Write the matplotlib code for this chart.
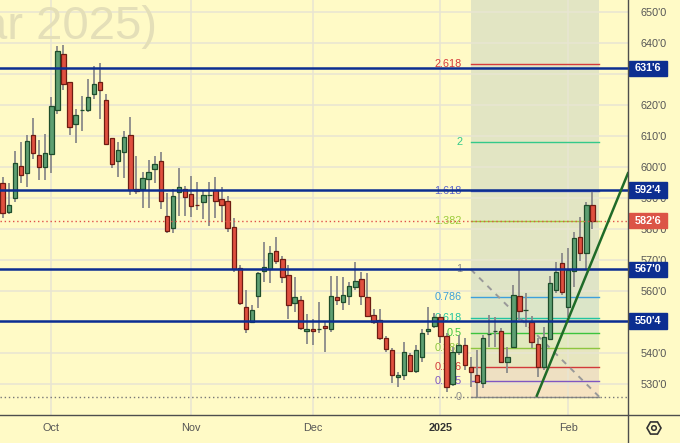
import numpy as np
import matplotlib
matplotlib.use("Agg")
import matplotlib.pyplot as plt
import matplotlib.transforms as mtransforms
from matplotlib.patches import Rectangle, RegularPolygon, Circle
from matplotlib.lines import Line2D

plt.rcParams['font.family'] = ['Liberation Sans', 'DejaVu Sans']

# daily bars, Wheat Mar 2025 (index 0 = Oct 1)
opens = [595.0, 585.6, 589.9, 600.3, 598.0, 610.3, 603.8, 600.1, 604.1, 618.3,
         636.4, 627.3, 613.7, 618.3, 618.3, 623.6, 627.4, 621.6, 609.2, 601.8,
         604.9, 610.3, 592.8, 593.0, 596.0, 599.3, 601.8, 584.1, 580.2, 591.8,
         592.8, 591.3, 587.7, 588.6, 590.9, 592.6, 589.7, 589.0, 580.6, 567.4,
         554.8, 550.0, 558.4, 566.4, 567.2, 572.9, 570.4, 565.2, 556.1, 557.2,
         547.1, 547.8, 547.7, 548.8, 547.7, 558.0, 556.6, 558.4, 561.4, 563.9,
         558.0, 552.3, 550.7, 544.8, 541.1, 532.3, 532.9, 539.3, 534.4, 538.9,
         547.1, 548.7, 551.6, 545.6, 530.0, 540.3, 542.7, 535.5, 533.0, 530.3,
         546.1, 547.2, 547.2, 537.3, 541.9, 558.4, 553.9, 550.2, 543.0, 535.7,
         544.5, 560.5, 569.0, 554.8, 566.5, 577.4, 572.2, 587.8]
highs = [596.9, 594.7, 605.1, 608.1, 610.3, 615.9, 608.7, 610.5, 622.5, 639.1,
         639.3, 627.3, 618.7, 622.9, 628.3, 632.5, 633.6, 623.4, 609.5, 608.1,
         611.6, 616.1, 603.6, 598.3, 602.2, 603.5, 604.7, 591.7, 592.9, 599.7,
         593.9, 597.1, 595.2, 592.6, 595.2, 596.9, 593.5, 590.7, 583.5, 568.4,
         560.4, 555.5, 566.2, 575.7, 574.5, 577.4, 571.3, 568.3, 564.7, 558.4,
         552.6, 550.9, 556.6, 550.0, 564.9, 564.9, 564.7, 563.0, 569.4, 566.2,
         565.8, 554.2, 554.2, 545.5, 541.8, 534.0, 543.7, 540.0, 542.5, 547.8,
         555.0, 552.9, 552.5, 546.5, 542.1, 545.9, 544.8, 538.9, 541.1, 545.9,
         552.3, 551.6, 548.0, 542.1, 562.0, 566.8, 559.3, 552.0, 544.8, 548.4,
         564.9, 569.5, 572.2, 573.8, 579.0, 584.0, 588.8, 592.5]
lows = [583.7, 584.9, 588.8, 594.9, 593.6, 602.7, 595.8, 595.8, 598.0, 617.2,
        624.8, 610.3, 607.8, 611.7, 617.7, 621.9, 615.4, 607.2, 599.8, 596.9,
        596.5, 591.0, 591.3, 586.7, 586.9, 594.7, 586.4, 578.8, 578.8, 584.2,
        584.2, 584.0, 586.1, 583.3, 581.1, 583.6, 582.2, 579.0, 566.2, 555.5,
        546.4, 549.7, 554.5, 563.1, 562.5, 568.8, 562.7, 550.9, 553.4, 547.5,
        543.0, 542.7, 546.4, 540.5, 546.9, 555.5, 553.9, 555.5, 560.4, 555.5,
        551.6, 549.5, 544.3, 540.5, 530.5, 529.2, 531.4, 534.1, 533.5, 537.3,
        545.9, 548.0, 543.2, 527.6, 529.5, 539.5, 534.6, 529.2, 526.0, 528.7,
        542.1, 542.1, 536.8, 533.5, 541.6, 550.7, 548.4, 541.6, 532.3, 534.6,
        544.3, 559.3, 558.8, 551.8, 561.4, 569.7, 566.8, 579.9]
closes = [585.1, 587.7, 601.2, 597.3, 608.4, 604.4, 600.1, 604.4, 619.6, 637.3,
          626.6, 612.8, 616.6, 618.4, 622.4, 626.6, 624.7, 607.3, 600.9, 605.5,
          609.7, 592.6, 592.3, 596.4, 598.3, 601.0, 589.1, 579.5, 590.7, 593.5,
          590.2, 587.5, 587.6, 590.9, 591.1, 588.9, 587.7, 580.4, 567.1, 556.3,
          547.9, 553.9, 565.8, 567.8, 572.2, 569.6, 564.7, 555.6, 558.0, 548.2,
          547.9, 547.2, 547.7, 548.0, 558.4, 557.1, 558.7, 561.7, 563.2, 558.4,
          552.1, 550.0, 544.8, 541.3, 532.9, 532.9, 540.4, 534.4, 541.1, 546.4,
          547.9, 551.6, 545.7, 529.1, 540.4, 542.7, 536.2, 533.9, 530.7, 544.8,
          546.1, 547.2, 537.3, 538.9, 558.8, 553.7, 553.9, 543.7, 535.5, 545.1,
          562.5, 566.3, 559.7, 566.8, 577.0, 572.2, 587.8, 582.75]
first_bar = -8

month_pos = [0, 23, 43, 64, 85]
month_labels = ['Oct', 'Nov', 'Dec', '2025', 'Feb']
price_ticks = [530, 540, 550, 560, 570, 580, 590, 600, 610, 620, 630, 640, 650]
hidden_ticks = [550, 630]  # sit under the level badges

key_levels = [631.75, 592.5, 567.0, 550.5]
last_price = 582.75

fib_low, fib_high = 526.0, 567.0
fib_start, fib_end = 69, 90.1
fib_ratios = [0, 0.125, 0.236, 0.382, 0.5, 0.618, 0.786, 1, 1.382, 1.618, 2, 2.618]
fib_names = ['0', '0.125', '0.236', '0.382', '0.5', '0.618', '0.786', '1', '1.382', '1.618', '2', '2.618']
fib_colors = ['#8c8c8c', '#7e57c2', '#d23a3a', '#8dc63f', '#3cc43c', '#22c4a0', '#3d9fdc',
              '#8c8c8c', '#9ccc3c', '#5b63c9', '#33c98a', '#d63a3a']
band_colors = ['#f6e3c2', '#eee0c2', '#e7e6bf', '#e2eabf', '#dde8c4', '#dbe5c8', '#dfe4c6']

trend_x = [79.85, 94.85]
trend_y = [526.3, 598.0]
diag_x = [69, 90.1]
diag_y = [567.0, 526.0]

bg = '#fffac6'
W, H = 680, 443


def fmt(p):
    return "%d'%d" % (int(p), int(round((p % 1) * 8)))


fig = plt.figure(figsize=(W / 100, H / 100), dpi=100, facecolor=bg)
ax = fig.add_axes([0, 28 / H, 628 / W, 415 / H])
ax.set_facecolor(bg)
ax.set_xlim(-8.44, 94.85)
ax.set_ylim(520.1, 653.8)

# fib extension zone
ax.fill_between([fib_start, fib_end], fib_high, 653.8, color='#e2e5c3', lw=0, zorder=0.3)
for i in range(len(band_colors)):
    lo = fib_low + fib_ratios[i] * (fib_high - fib_low)
    hi = fib_low + fib_ratios[i + 1] * (fib_high - fib_low)
    ax.fill_between([fib_start, fib_end], lo, hi, color=band_colors[i], lw=0, zorder=0.3)

ax.set_xticks(month_pos, month_labels)
ax.set_yticks(price_ticks, ['' if p in hidden_ticks else fmt(p) for p in price_ticks])
ax.grid(True, color='#e8e5d2', lw=1.1, zorder=0.5)
ax.set_axisbelow(True)
ax.yaxis.tick_right()
ax.tick_params(axis='y', length=0, pad=9, labelsize=7.8, colors='#555555')
ax.tick_params(axis='x', length=0, pad=6, labelsize=7.8, colors='#555555')
ax.get_xticklabels()[3].set_fontweight('bold')
ax.get_xticklabels()[3].set_color('#333333')
for s in ax.spines.values():
    s.set_visible(False)

ax.text(0.25, 0.934, '(Mar 2025)', transform=ax.transAxes, ha='right', va='center',
        fontsize=34, color='#e4dfb8', zorder=0.6, clip_on=True)

# fib levels and labels
for r, name, c in zip(fib_ratios, fib_names, fib_colors):
    lvl = fib_low + r * (fib_high - fib_low)
    ax.plot([fib_start, fib_end], [lvl, lvl], color=c, lw=1, zorder=1)
    ax.text(fib_start - 1.45, lvl, name, color=c, fontsize=7.8, ha='right', va='center', zorder=1.2)
ax.axhline(fib_low, color='#777777', lw=1, ls=(0, (1, 2)), zorder=1)
ax.plot(diag_x, diag_y, color='#999999', lw=1.4, ls=(0, (3, 3)), zorder=1.1)

# candles
x = np.arange(first_bar, first_bar + len(opens))
o = np.array(opens); h = np.array(highs); l = np.array(lows); c = np.array(closes)
up = c >= o
ax.vlines(x, l, h, color='#8a8a8a', lw=1.3, zorder=2)
ax.bar(x[up], c[up] - o[up], bottom=o[up], width=0.72, color='#5e9f72', edgecolor='#1e4d2b', lw=0.9, zorder=3)
ax.bar(x[~up], c[~up] - o[~up], bottom=o[~up], width=0.72, color='#e0503f', edgecolor='#6e1c12', lw=0.9, zorder=3)

# horizontal levels
for lv in key_levels:
    ax.axhline(lv, color='#0c2e91', lw=1.8, zorder=4)
ax.axhline(last_price, color='#e0504a', lw=1, ls=(0, (1, 2)), zorder=4)
ax.plot(trend_x, trend_y, color='#1f6b28', lw=1.8, zorder=4.5)

# price badges on the axis
bt = mtransforms.blended_transform_factory(ax.transAxes, ax.transData)
for lv, col in [(v, '#0c2e91') for v in key_levels] + [(last_price, '#dc5446')]:
    ax.add_patch(Rectangle((1.0015, lv - 2.55), 0.0605, 5.1, transform=bt, color=col, clip_on=False, zorder=6))
    ax.text(1.032, lv, fmt(lv), transform=bt, ha='center', va='center', color='white',
            fontsize=7.8, fontweight='bold', clip_on=False, zorder=7)

# frame lines
fig.add_artist(Line2D([628 / W, 628 / W], [0, 1], color='#4d4d4d', lw=1))
fig.add_artist(Line2D([0, 1], [28 / H, 28 / H], color='#4d4d4d', lw=1))

# settings icon
ident = mtransforms.IdentityTransform()
fig.add_artist(RegularPolygon((654, 15), 6, radius=7, orientation=np.pi / 6, fill=False,
                              ec='#333333', lw=1.2, transform=ident))
fig.add_artist(Circle((654, 15), 2.3, fill=False, ec='#333333', lw=1.1, transform=ident))

fig.savefig('out.png', dpi=100, facecolor=bg)
